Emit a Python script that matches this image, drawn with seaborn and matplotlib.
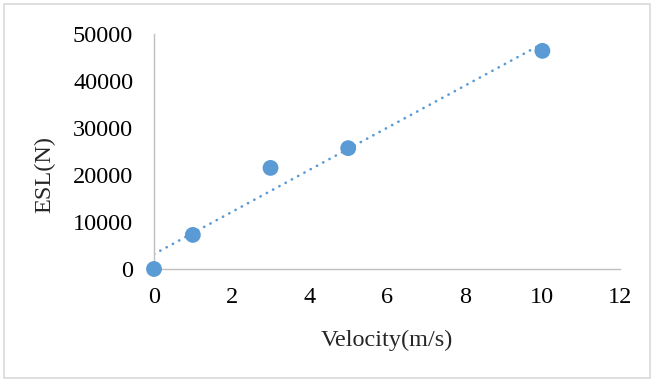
import matplotlib
matplotlib.use("Agg")
import matplotlib.pyplot as plt
import seaborn as sns
import pandas as pd
from matplotlib.patches import Rectangle

velocity = [0, 1, 3, 5, 10]
esl = [0, 7250, 21500, 25700, 46400]
x_ticks = [0, 2, 4, 6, 8, 10, 12]
y_ticks = [0, 10000, 20000, 30000, 40000, 50000]

df = pd.DataFrame({"Velocity(m/s)": velocity, "ESL(N)": esl})

sns.set_style("white")
plt.rcParams["font.family"] = ["Liberation Serif", "DejaVu Serif"]

color = "#5B9BD5"
fs = 17.5
fig = plt.figure(figsize=(6.52, 3.81), dpi=100)
ax = fig.add_axes([0.2362, 0.294, 0.951 - 0.2362, 0.911 - 0.294])

sns.regplot(data=df, x="Velocity(m/s)", y="ESL(N)", ax=ax, scatter=False, ci=None,
            color=color,
            line_kws=dict(linewidth=1.9, linestyle=(0, (0.1, 2.6)), dash_capstyle="round"))
sns.scatterplot(data=df, x="Velocity(m/s)", y="ESL(N)", ax=ax, color=color, s=130,
                edgecolor="none", zorder=5, clip_on=False)

ax.set_xlim(0, 12)
ax.set_ylim(0, 50000)
ax.set_xticks(x_ticks)
ax.set_yticks(y_ticks)
ax.tick_params(axis="both", length=0, labelsize=fs, colors="black")
ax.tick_params(axis="x", pad=13)
ax.tick_params(axis="y", pad=15)
for s in ["top", "right"]:
    ax.spines[s].set_visible(False)
for s in ["left", "bottom"]:
    ax.spines[s].set_color("#BFBFBF")
    ax.spines[s].set_linewidth(1.0)
ax.set_xlabel("Velocity(m/s)", fontsize=fs, labelpad=16)
ax.set_ylabel("ESL(N)", fontsize=fs, labelpad=13, y=0.404)
ax.grid(False)

fig.patches.append(Rectangle((4 / 652, 3 / 381), 646 / 652, 374 / 381, transform=fig.transFigure,
                             fill=False, edgecolor="#D9D9D9", linewidth=1.2))
fig.savefig("out.png", dpi=100)
